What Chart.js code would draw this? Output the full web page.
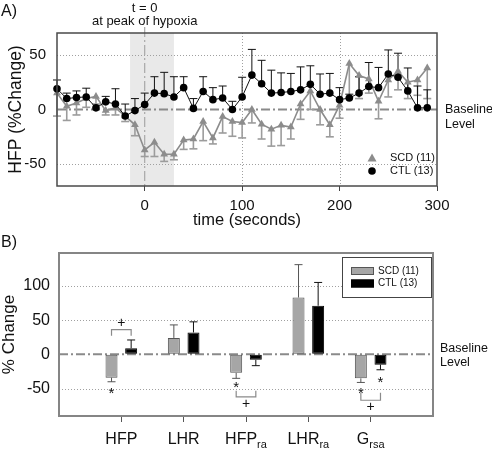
<!DOCTYPE html>
<html>
<head>
<meta charset="utf-8">
<script src="https://cdn.jsdelivr.net/npm/chart.js@4.4.1/dist/chart.umd.min.js"></script>
<style>
  body { margin: 0; background: #fff; }
  canvas { display: block; }
</style>
</head>
<body>
<canvas id="hfpTime" width="492" height="230"></canvas>
<canvas id="summary" width="492" height="230"></canvas>
<script>
const FONT = "'Liberation Sans', Arial, Helvetica, sans-serif";
Chart.defaults.font.family = FONT;
Chart.defaults.color = '#111';

// ---- Panel A: HFP (% change) every 10 s, t = 0 at peak of hypoxia ----
const times = [-90, -80, -70, -60, -50, -40, -30, -20, -10, 0, 10, 20, 30, 40, 50, 60, 70, 80, 90, 100,
  110, 120, 130, 140, 150, 160, 170, 180, 190, 200, 210, 220, 230, 240, 250, 260, 270, 280, 290];
const ctlHFP = [19, 10, 11, 11.5, 1.5, 7, 5, -6, -1, 4.5, 15, 14.5, 11.5, 20, 1, 16.5, 9, 10.5, 0, 11.5,
  31.5, 23.5, 15, 15.5, 16.5, 18, 23, 14, 15, 9, 10.5, 15, 21, 20, 32.5, 29.5, 17, 1.5, 1.5];
const ctlSEM = [8, 5, 6, 8, 0, 5, 14, 11, 11, 10.5, 15, 19.5, 18.5, 10, 9, 13.5, 11, 11, 7.5, 18,
  23.5, 21.5, 21, 18, 16.5, 21, 17, 18.5, 18, 11, 3.5, 15, 22, 18.5, 22, 22, 21, 20, 16.5];
const scdHFP = [15, 3, 6, 10, 12, -1, 1.5, -6, -14, -37, -30, -41, -41, -28, -27, -11, -26, -6.5, -11, -12,
  0, -13.5, -18, -14.5, -16, 5, 17, 0, -14, 4, 42, 31, 28, 7.5, 27, 35, 25, 27, 38];
const scdSEM = [21, 13, 11, 8, 7, 4, 6.5, 5, 10, 6, 13, 6.5, 5, 8.5, 9, 17.5, 5.5, 15, 13.5, 14,
  12.3, 13.5, 15.5, 18.5, 11, 14, 17, 14, 11, 12, 31, 21, 13, 16, 15.5, 17, 15, 14, 28];
const hypoxiaWindow = [-15, 30];
const timeTicks = [0, 100, 200, 300];
const hfpTicks = [-50, 0, 50];

// ---- Panel B: mean % change (SEM) ----
const measures = ['HFP', 'LHR', 'HFP', 'LHR', 'G'];
const measureSubs = ['', '', 'ra', 'ra', 'rsa'];
const scdChange = [-34, 24, -27, 83, -35];
const scdErr = [6, 19, 8, 48, 6];
const ctlChange = [9, 32, -8, 71, -15];
const ctlErr = [12, 15.5, 8.5, 34, 7.5];
const changeTicks = [-50, 0, 50, 100];

function hline(ctx, x0, x1, y) { ctx.beginPath(); ctx.moveTo(x0, y); ctx.lineTo(x1, y); ctx.stroke(); }
function vline(ctx, x, y0, y1) { ctx.beginPath(); ctx.moveTo(x, y0); ctx.lineTo(x, y1); ctx.stroke(); }
function text(ctx, str, x, y, size, align) {
  ctx.font = size + 'px ' + FONT;
  ctx.fillStyle = '#111';
  ctx.textAlign = align || 'left';
  ctx.textBaseline = 'middle';
  ctx.fillText(str, x, y);
}

// shading, grid, baselines, error bars, frame and labels for panel A
const panelA = {
  id: 'panelA',
  beforeDatasetsDraw(chart) {
    const { ctx, chartArea: a, scales: { x, y } } = chart;
    ctx.save();
    const s0 = x.getPixelForValue(hypoxiaWindow[0]);
    const s1 = x.getPixelForValue(hypoxiaWindow[1]);
    ctx.fillStyle = '#e9e9e9';
    ctx.fillRect(s0, a.top, s1 - s0, a.bottom - a.top);

    ctx.strokeStyle = '#a0a0a0';
    ctx.lineWidth = 1;
    ctx.setLineDash([1, 2]);
    hfpTicks.forEach(v => { if (v !== 0) hline(ctx, a.left, a.right, Math.round(y.getPixelForValue(v)) + 0.5); });
    timeTicks.forEach(v => { if (v !== 0 && v < x.max) vline(ctx, Math.round(x.getPixelForValue(v)) + 0.5, a.top, a.bottom); });

    ctx.strokeStyle = '#8a8a8a';
    ctx.lineWidth = 2;
    ctx.setLineDash([9, 3, 2, 3]);
    hline(ctx, a.left, a.right, y.getPixelForValue(0));

    ctx.strokeStyle = '#a8a8a8';
    ctx.lineWidth = 1.2;
    ctx.setLineDash([10, 3, 2, 3]);
    vline(ctx, x.getPixelForValue(0), 27, a.bottom);
    ctx.setLineDash([]);

    // SCD: mean - SEM, CTL: mean + SEM
    const bars = (means, errs, dir, color, width) => {
      ctx.strokeStyle = color;
      ctx.lineWidth = width;
      means.forEach((m, i) => {
        if (!errs[i]) return;
        const px = x.getPixelForValue(times[i]);
        const y0 = y.getPixelForValue(m), y1 = y.getPixelForValue(m + dir * errs[i]);
        vline(ctx, px, y0, y1);
        hline(ctx, px - 4, px + 4, y1);
      });
    };
    bars(scdHFP, scdSEM, -1, '#9c9c9c', 1.6);
    bars(ctlHFP, ctlSEM, 1, '#111', 1);
    ctx.restore();
  },
  afterDatasetsDraw(chart) {
    const { ctx, chartArea: a, scales: { x, y } } = chart;
    ctx.save();
    ctx.strokeStyle = '#4a4a4a';
    ctx.lineWidth = 1.5;
    ctx.strokeRect(a.left, a.top, a.right - a.left, a.bottom - a.top);

    // legend
    const lx = a.right - 65;
    const ly1 = a.bottom - 28, ly2 = a.bottom - 15;
    ctx.fillStyle = '#8c8c8c';
    ctx.beginPath();
    ctx.moveTo(lx, ly1 - 4.5); ctx.lineTo(lx + 4.5, ly1 + 3.5); ctx.lineTo(lx - 4.5, ly1 + 3.5);
    ctx.closePath(); ctx.fill();
    ctx.fillStyle = '#000';
    ctx.beginPath(); ctx.arc(lx, ly2, 3.8, 0, Math.PI * 2); ctx.fill();
    const ds = chart.data.datasets;
    text(ctx, ds[1].label, lx + 18, ly1, 11);
    text(ctx, ds[0].label, lx + 18, ly2, 11);

    const x0 = x.getPixelForValue(0);
    text(ctx, 't = 0', x0, 8, 13, 'center');
    text(ctx, 'at peak of hypoxia', x0, 21, 13, 'center');
    text(ctx, 'A)', 1, 12, 16);
    const yb = y.getPixelForValue(0);
    text(ctx, 'Baseline', a.right + 8, yb, 12.5);
    text(ctx, 'Level', a.right + 8, yb + 15, 12.5);
    ctx.restore();
  }
};

new Chart(document.getElementById('hfpTime'), {
  type: 'line',
  data: {
    datasets: [
      {
        label: 'CTL (13)',
        data: times.map((t, i) => ({ x: t, y: ctlHFP[i] })),
        borderColor: '#111', borderWidth: 1,
        pointStyle: 'circle', pointRadius: 3.8,
        pointBackgroundColor: '#000', pointBorderWidth: 0,
        clip: false, order: 0
      },
      {
        label: 'SCD (11)',
        data: times.map((t, i) => ({ x: t, y: scdHFP[i] })),
        borderColor: '#8c8c8c', borderWidth: 1.6,
        pointStyle: 'triangle', pointRadius: 4.5,
        pointBackgroundColor: '#8c8c8c', pointBorderWidth: 0,
        clip: false, order: 1
      }
    ]
  },
  options: {
    responsive: false,
    animation: false,
    layout: { padding: { top: 33, right: 55, left: 0, bottom: 0 } },
    plugins: { legend: { display: false }, tooltip: { enabled: false } },
    scales: {
      x: {
        type: 'linear', min: -90, max: 300,
        afterBuildTicks: s => { s.ticks = timeTicks.map(v => ({ value: v })); },
        afterFit: s => { s.height = 44; },
        ticks: { font: { size: 15 }, padding: 6, maxRotation: 0 },
        grid: { drawOnChartArea: false, tickLength: 5, color: '#444' },
        border: { display: false },
        title: { display: true, text: 'time (seconds)', font: { size: 16.5 }, padding: { top: 0, bottom: 0 } }
      },
      y: {
        min: -70, max: 70,
        afterBuildTicks: s => { s.ticks = hfpTicks.map(v => ({ value: v })); },
        afterFit: s => { s.width = 57; },
        ticks: { font: { size: 15 }, padding: 11 },
        grid: { drawOnChartArea: false, drawTicks: false },
        border: { display: false },
        title: { display: true, text: 'HFP (%Change)', font: { size: 17.5 }, padding: { top: 6, bottom: 0 } }
      }
    }
  },
  plugins: [panelA]
});

// grid, baseline, error bars, significance marks, legend and labels for panel B
const panelB = {
  id: 'panelB',
  beforeDatasetsDraw(chart) {
    const { ctx, chartArea: a, scales: { y } } = chart;
    ctx.save();
    ctx.strokeStyle = '#a0a0a0';
    ctx.lineWidth = 1;
    ctx.setLineDash([1, 2]);
    changeTicks.forEach(v => { if (v !== 0) hline(ctx, a.left, a.right, Math.round(y.getPixelForValue(v)) + 0.5); });
    ctx.strokeStyle = '#8a8a8a';
    ctx.lineWidth = 2;
    ctx.setLineDash([9, 3, 2, 3]);
    hline(ctx, a.left, a.right, y.getPixelForValue(0));
    ctx.restore();
  },
  afterDatasetsDraw(chart) {
    const { ctx, chartArea: a, scales: { x, y } } = chart;
    ctx.save();
    const gMeta = chart.getDatasetMeta(0), cMeta = chart.getDatasetMeta(1);
    const errs = (meta, vals, es, color) => {
      ctx.strokeStyle = color;
      ctx.lineWidth = 1;
      vals.forEach((v, i) => {
        const px = meta.data[i + 1].x;
        const y0 = y.getPixelForValue(v), y1 = y.getPixelForValue(v + Math.sign(v) * es[i]);
        vline(ctx, px, y0, y1);
        hline(ctx, px - 4, px + 4, y1);
      });
    };
    errs(gMeta, scdChange, scdErr, '#555');
    errs(cMeta, ctlChange, ctlErr, '#111');

    ctx.strokeStyle = '#858585';
    ctx.lineWidth = 2;
    ctx.strokeRect(a.left, a.top, a.right - a.left, a.bottom - a.top);

    // significance marks
    const gx = i => gMeta.data[i].x, cx = i => cMeta.data[i].x;
    const star = (px, v) => text(ctx, '*', px, y.getPixelForValue(v) + 3, 15, 'center');
    const bracket = (i, vBar, vTip, vPlus) => {
      ctx.strokeStyle = '#8a8a8a';
      ctx.lineWidth = 1.2;
      const yb = y.getPixelForValue(vBar), yt = y.getPixelForValue(vTip);
      ctx.beginPath();
      ctx.moveTo(gx(i), yt); ctx.lineTo(gx(i), yb); ctx.lineTo(cx(i), yb); ctx.lineTo(cx(i), yt);
      ctx.stroke();
      text(ctx, '+', (gx(i) + cx(i)) / 2, y.getPixelForValue(vPlus), 14, 'center');
    };
    star(gx(1), -53);
    bracket(1, 36, 27, 46);
    star(gx(3), -45);
    bracket(3, -62, -53, -72);
    star(gx(5), -53);
    star(cx(5), -37);
    bracket(5, -67, -56, -77);

    // category labels with subscripts
    measures.forEach((m, i) => {
      const px = x.getPixelForValue(i + 1);
      const py = a.bottom + 24;
      ctx.font = '16px ' + FONT;
      const w1 = ctx.measureText(m).width;
      ctx.font = '11px ' + FONT;
      const w2 = measureSubs[i] ? ctx.measureText(measureSubs[i]).width : 0;
      const left = px - (w1 + w2) / 2;
      text(ctx, m, left, py, 16);
      if (measureSubs[i]) text(ctx, measureSubs[i], left + w1, py + 5, 11);
    });

    // legend box
    const bx = a.right - 91, by = a.top + 4, bw = 89, bh = 40;
    ctx.fillStyle = '#fff';
    ctx.fillRect(bx, by, bw, bh);
    ctx.strokeStyle = '#444';
    ctx.lineWidth = 1;
    ctx.strokeRect(bx + 0.5, by + 0.5, bw, bh);
    const ds = chart.data.datasets;
    [0, 1].forEach(k => {
      const ey = by + 14 + k * 12.5;
      ctx.fillStyle = ds[k].backgroundColor;
      ctx.fillRect(bx + 9, ey - 4, 23, 8);
      ctx.strokeStyle = ds[k].borderColor;
      ctx.strokeRect(bx + 9.5, ey - 3.5, 22, 7);
      text(ctx, ds[k].label, bx + 36, ey, 10);
    });

    text(ctx, 'B)', 1, 13, 16);
    const yb = y.getPixelForValue(0);
    text(ctx, 'Baseline', a.right + 7, yb - 6, 12.5);
    text(ctx, 'Level', a.right + 7, yb + 8, 12.5);
    ctx.restore();
  }
};

new Chart(document.getElementById('summary'), {
  type: 'bar',
  data: {
    labels: ['', ...measures.map((m, i) => m + measureSubs[i]), ''],
    datasets: [
      {
        label: 'SCD (11)',
        data: [null, ...scdChange, null],
        backgroundColor: '#a6a6a6', borderColor: '#555', borderWidth: 1, borderSkipped: false,
        categoryPercentage: 0.63, barPercentage: 0.61
      },
      {
        label: 'CTL (13)',
        data: [null, ...ctlChange, null],
        backgroundColor: '#000', borderColor: '#000', borderWidth: 1, borderSkipped: false,
        categoryPercentage: 0.63, barPercentage: 0.61
      }
    ]
  },
  options: {
    responsive: false,
    animation: false,
    layout: { padding: { top: 23, right: 59, left: 0, bottom: 0 } },
    plugins: { legend: { display: false }, tooltip: { enabled: false } },
    scales: {
      x: {
        offset: false,
        afterFit: s => { s.height = 44; },
        ticks: { color: 'rgba(0,0,0,0)', font: { size: 16 } },
        grid: {
          offset: false, drawOnChartArea: false, tickLength: 6,
          color: c => (c.index === 0 || c.index === 6) ? 'rgba(0,0,0,0)' : '#555'
        },
        border: { display: false }
      },
      y: {
        min: -90, max: 148,
        afterBuildTicks: s => { s.ticks = changeTicks.map(v => ({ value: v })); },
        afterFit: s => { s.width = 59; },
        ticks: { font: { size: 16 }, padding: 9 },
        grid: { drawOnChartArea: false, drawTicks: false },
        border: { display: false },
        title: { display: true, text: '% Change', font: { size: 17 }, padding: { top: -1, bottom: 0 } }
      }
    }
  },
  plugins: [panelB]
});
</script>
</body>
</html>
